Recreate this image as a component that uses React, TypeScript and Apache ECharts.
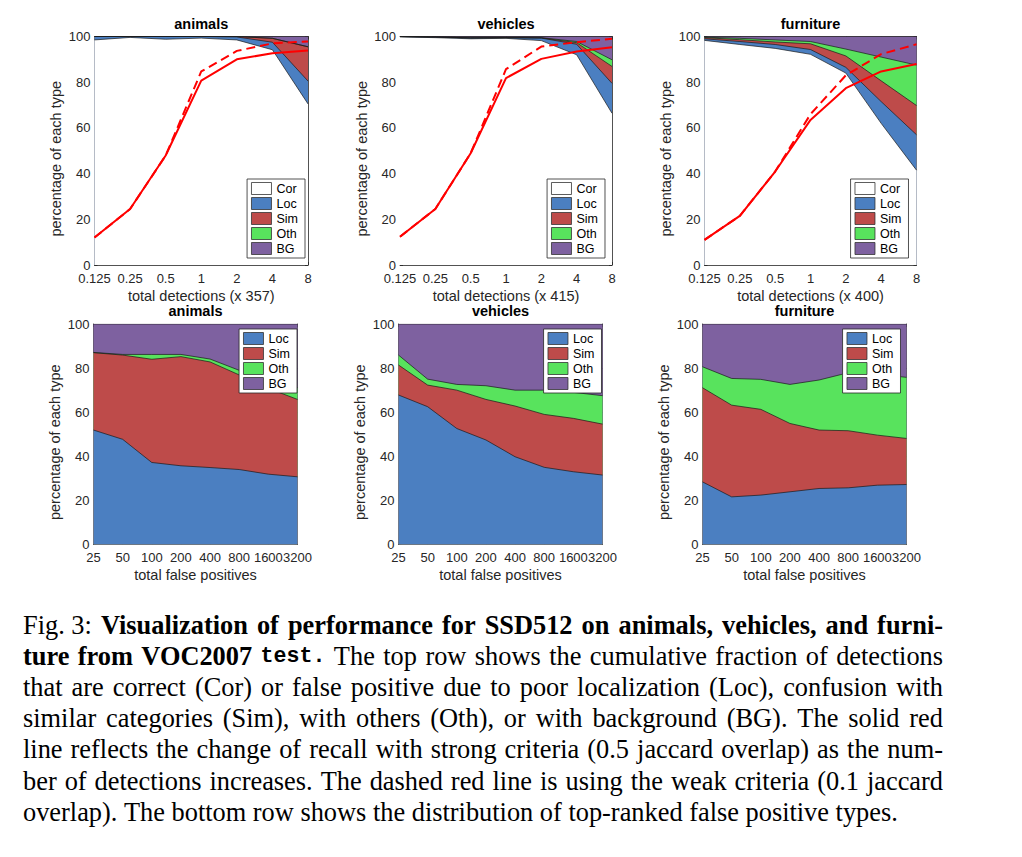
import React, { useEffect, useRef } from "react";
import * as echarts from "echarts";

// ---------------- data ----------------
const CATEGORIES = ["animals", "vehicles", "furniture"];
const DETECTION_COUNTS = [357, 415, 400];
const TOP_TYPES = ["Cor", "Loc", "Sim", "Oth", "BG"];
const BOTTOM_TYPES = ["Loc", "Sim", "Oth", "BG"];
const TOP_X = [0.125, 0.25, 0.5, 1, 2, 4, 8];
const BOTTOM_X = ["25", "50", "100", "200", "400", "800", "1600", "3200"];
const Y_MIN = 0;
const Y_MAX = 100;
const Y_STEP = 20;

// top row: cumulative fraction of detections by type (percent)
const ANIMALS_COR = [98.5, 99.6, 98.8, 99.3, 98.5, 94.2, 70.5];
const ANIMALS_LOC = [1.5, 0.4, 1.2, 0.7, 1.3, 3.3, 10.0];
const ANIMALS_SIM = [0, 0, 0, 0, 0.2, 1.7, 15.0];
const ANIMALS_OTH = [0, 0, 0, 0, 0, 0, 0];
const ANIMALS_BG = [0, 0, 0, 0, 0, 0.8, 4.5];
const ANIMALS_RECALL_STRONG = [12.0, 24.5, 47.9, 80.7, 90.0, 92.7, 93.9];
const ANIMALS_RECALL_WEAK = [12.0, 24.5, 47.9, 84.7, 93.7, 97.0, 97.8];

const VEHICLES_COR = [99.8, 99.5, 99.0, 99.2, 98.2, 92.0, 66.4];
const VEHICLES_LOC = [0.2, 0.3, 0.4, 0.3, 1.1, 4.6, 13.1];
const VEHICLES_SIM = [0, 0, 0, 0, 0.1, 0.7, 7.4];
const VEHICLES_OTH = [0, 0, 0, 0, 0.1, 0.5, 2.9];
const VEHICLES_BG = [0, 0.2, 0.6, 0.5, 0.5, 2.2, 10.2];
const VEHICLES_RECALL_STRONG = [12.4, 24.5, 48.9, 81.8, 90.2, 93.4, 95.3];
const VEHICLES_RECALL_WEAK = [12.4, 24.5, 48.9, 85.7, 95.6, 97.5, 99.0];

const FURNITURE_COR = [98.3, 96.5, 94.8, 92.2, 84.0, 62.0, 41.5];
const FURNITURE_LOC = [0.7, 1.3, 1.7, 2.1, 2.5, 9.5, 15.5];
const FURNITURE_SIM = [0.5, 0.8, 1.1, 2.5, 5.0, 9.1, 12.8];
const FURNITURE_OTH = [0.2, 0.6, 0.9, 1.0, 3.0, 10.4, 17.7];
const FURNITURE_BG = [0.3, 0.8, 1.5, 2.2, 5.5, 9.0, 12.5];
const FURNITURE_RECALL_STRONG = [11.0, 21.5, 40.9, 63.5, 77.4, 84.7, 88.0];
const FURNITURE_RECALL_WEAK = [11.0, 21.5, 40.9, 66.0, 83.0, 92.3, 96.6];

// bottom row: distribution of top-ranked false positive types (percent)
const ANIMALS_FP_LOC = [51.9, 47.7, 37.2, 35.7, 34.9, 34.0, 31.9, 30.7];
const ANIMALS_FP_SIM = [35.1, 38.2, 46.8, 49.5, 47.9, 42.9, 38.9, 35.1];
const ANIMALS_FP_OTH = [0.1, 0.3, 2.2, 1.0, 1.3, 2.1, 3.8, 5.3];
const ANIMALS_FP_BG = [12.9, 13.8, 13.8, 13.8, 15.9, 21.0, 25.4, 28.9];

const VEHICLES_FP_LOC = [67.8, 62.5, 52.6, 47.4, 39.8, 35.0, 33.0, 31.5];
const VEHICLES_FP_SIM = [13.6, 9.8, 17.4, 18.4, 23.0, 24.0, 24.2, 23.1];
const VEHICLES_FP_OTH = [4.5, 2.7, 2.6, 6.2, 7.2, 11.0, 11.8, 12.9];
const VEHICLES_FP_BG = [14.1, 25.0, 27.4, 28.0, 30.0, 30.0, 31.0, 32.5];

const FURNITURE_FP_LOC = [28.4, 21.6, 22.4, 23.9, 25.4, 25.7, 26.9, 27.2];
const FURNITURE_FP_SIM = [42.7, 41.6, 38.9, 31.0, 26.5, 25.9, 22.7, 20.9];
const FURNITURE_FP_OTH = [9.5, 12.1, 13.6, 17.7, 22.7, 26.3, 27.7, 27.7];
const FURNITURE_FP_BG = [19.4, 24.7, 25.1, 27.4, 25.4, 22.1, 22.7, 24.2];

const CAPTION_LINES: [string, string][][] = [
  [["k", "Fig. 3:"], ["b", "Visualization of performance for SSD512 on animals, vehicles, and furni-"]],
  [["b", "ture from VOC2007"], ["m", "test."], ["n", "The top row shows the cumulative fraction of detections"]],
  [["n", "that are correct (Cor) or false positive due to poor localization (Loc), confusion with"]],
  [["n", "similar categories (Sim), with others (Oth), or with background (BG). The solid red"]],
  [["n", "line reflects the change of recall with strong criteria (0.5 jaccard overlap) as the num-"]],
  [["n", "ber of detections increases. The dashed red line is using the weak criteria (0.1 jaccard"]],
  [["n", "overlap). The bottom row shows the distribution of top-ranked false positive types."]],
];

// ---------------- styling / layout ----------------
const TYPE_COLORS: Record<string, string> = {
  Cor: "#ffffff",
  Loc: "#4b7fc1",
  Sim: "#be4b4a",
  Oth: "#58e35d",
  BG: "#7e61a0",
};
const AXIS_COLOR = "#262626";
const SANS = '"Liberation Sans", Arial, Helvetica, sans-serif';
const SERIF = '"Liberation Serif", "Times New Roman", serif';
const MONO = '"Liberation Mono", "Courier New", monospace';

const TOP_GRIDS = [
  { left: 94.5, top: 36.5, width: 213.5, height: 228.5 },
  { left: 400, top: 36.5, width: 212, height: 228.5 },
  { left: 704.5, top: 36.5, width: 212, height: 228.5 },
];
const BOTTOM_GRIDS = [
  { left: 93.5, top: 324, width: 204, height: 220.5 },
  { left: 398.5, top: 324, width: 204, height: 220.5 },
  { left: 702.5, top: 324, width: 204, height: 220.5 },
];
const TOP_LEGEND_RIGHT = [717, 417, 113.5];
const BOTTOM_LEGEND_RIGHT = [725, 420.5, 121.5];

function cumulative(parts: number[][]): number[][] {
  const out: number[][] = [];
  let run = parts[0].map(() => 0);
  parts.forEach((p) => {
    run = run.map((v, i) => +(v + p[i]).toFixed(3));
    out.push(run);
  });
  return out;
}

function buildCaption(): any[] {
  const canvas = document.createElement("canvas");
  const ctx = canvas.getContext("2d") as CanvasRenderingContext2D;
  const MONO_SCALE = 0.82;
  const fam = (st: string) => (st === "m" ? MONO : SERIF);
  const wt = (st: string) => (st === "b" || st === "m" ? "bold" : "normal");
  const sz = (st: string, fs: number) => (st === "m" ? fs * MONO_SCALE : fs);
  const measure = (t: string, st: string, fs: number) => {
    ctx.font = `${wt(st)} ${sz(st, fs)}px ${fam(st)}`;
    return ctx.measureText(t).width;
  };
  const X0 = 23;
  const X1 = 943;
  const Y0 = 625;
  const LH = 31.2;
  const lastText = CAPTION_LINES[CAPTION_LINES.length - 1].map((s) => s[1]).join(" ");
  let fs = (25 * 875) / Math.max(1, measure(lastText, "n", 25));
  if (!isFinite(fs)) fs = 25;
  fs = Math.min(27, Math.max(23, fs));
  const els: any[] = [];
  CAPTION_LINES.forEach((line, li) => {
    const tokens: { t: string; st: string; w: number }[] = [];
    line.forEach(([st, text]) => {
      const parts = st === "k" ? [text] : text.split(" ").filter((p) => p.length);
      const s = st === "k" ? "n" : st;
      parts.forEach((p) => tokens.push({ t: p, st: s, w: measure(p, s, fs) }));
    });
    const total = tokens.reduce((a, b) => a + b.w, 0);
    const justify = li < CAPTION_LINES.length - 1;
    const gap = justify ? (X1 - X0 - total) / Math.max(1, tokens.length - 1) : measure(" ", "n", fs);
    let x = X0;
    tokens.forEach((tk) => {
      els.push({
        type: "text",
        x,
        y: Y0 + li * LH,
        silent: true,
        style: {
          text: tk.t,
          fontSize: sz(tk.st, fs),
          fontFamily: fam(tk.st),
          fontWeight: wt(tk.st),
          fill: "#000000",
          textAlign: "left",
          textVerticalAlign: "middle",
        },
      });
      x += tk.w + gap;
    });
  });
  return els;
}

function buildOption(): any {
  const topSets = [
    {
      parts: [ANIMALS_COR, ANIMALS_LOC, ANIMALS_SIM, ANIMALS_OTH, ANIMALS_BG],
      strong: ANIMALS_RECALL_STRONG,
      weak: ANIMALS_RECALL_WEAK,
    },
    {
      parts: [VEHICLES_COR, VEHICLES_LOC, VEHICLES_SIM, VEHICLES_OTH, VEHICLES_BG],
      strong: VEHICLES_RECALL_STRONG,
      weak: VEHICLES_RECALL_WEAK,
    },
    {
      parts: [FURNITURE_COR, FURNITURE_LOC, FURNITURE_SIM, FURNITURE_OTH, FURNITURE_BG],
      strong: FURNITURE_RECALL_STRONG,
      weak: FURNITURE_RECALL_WEAK,
    },
  ];
  const bottomSets = [
    [ANIMALS_FP_LOC, ANIMALS_FP_SIM, ANIMALS_FP_OTH, ANIMALS_FP_BG],
    [VEHICLES_FP_LOC, VEHICLES_FP_SIM, VEHICLES_FP_OTH, VEHICLES_FP_BG],
    [FURNITURE_FP_LOC, FURNITURE_FP_SIM, FURNITURE_FP_OTH, FURNITURE_FP_BG],
  ];

  const grid: any[] = [];
  const xAxis: any[] = [];
  const yAxis: any[] = [];
  const series: any[] = [];
  const legend: any[] = [];
  const graphic: any[] = [];

  const axisLine = { show: true, onZero: false, lineStyle: { color: AXIS_COLOR, width: 0.8 } };
  const axisTick = { show: true, inside: true, length: 3, lineStyle: { color: AXIS_COLOR, width: 0.8 } };
  const tickLabel = { show: true, color: AXIS_COLOR, fontSize: 13, lineHeight: 12, fontFamily: SANS, margin: 4 };
  const nameStyle = { color: AXIS_COLOR, fontSize: 14.5, fontFamily: SANS };

  const addYAxes = (g: number) => {
    const base = {
      type: "value",
      gridIndex: g,
      min: Y_MIN,
      max: Y_MAX,
      interval: Y_STEP,
      splitLine: { show: false },
      axisLine,
      axisTick,
    };
    yAxis.push({
      ...base,
      position: "left",
      name: "percentage of each type",
      nameLocation: "middle",
      nameRotate: 90,
      nameGap: 31,
      nameTextStyle: { ...nameStyle, padding: [0, 16, 0, 0] },
      axisLabel: tickLabel,
    });
    yAxis.push({ ...base, position: "right", axisLabel: { show: false } });
  };

  const addLegend = (types: string[], right: number, top: number) => {
    legend.push({
      orient: "vertical",
      right,
      top,
      padding: [3, 7, 3, 4],
      itemGap: 2,
      itemWidth: 20,
      itemHeight: 12,
      itemTextGap: 3,
      backgroundColor: "#ffffff",
      borderColor: AXIS_COLOR,
      borderWidth: 0.8,
      borderRadius: 0,
      selectedMode: false,
      icon: "rect",
      textStyle: { fontSize: 12.5, color: "#000000", fontFamily: SANS, lineHeight: 13 },
      data: types.map((t) => ({
        name: t,
        icon: "rect",
        itemStyle: { color: TYPE_COLORS[t], borderColor: "#333333", borderWidth: 0.8 },
      })),
    });
  };

  const addTitle = (text: string, g: any) => {
    graphic.push({
      type: "text",
      x: g.left + g.width / 2,
      y: g.top - 13,
      silent: true,
      style: {
        text,
        fontSize: 14.5,
        fontWeight: "bold",
        fontFamily: SANS,
        fill: "#000000",
        textAlign: "center",
        textVerticalAlign: "middle",
      },
    });
  };

  // ---- top row ----
  topSets.forEach((set, i) => {
    const g = grid.length;
    const box = TOP_GRIDS[i];
    grid.push({ ...box, show: false, containLabel: false, outerBoundsMode: "none" });
    const xBase = { type: "log", logBase: 2, gridIndex: g, min: TOP_X[0], max: TOP_X[TOP_X.length - 1], splitLine: { show: false }, minorTick: { show: false }, axisLine, axisTick };
    xAxis.push({
      ...xBase,
      position: "bottom",
      name: `total detections (x ${DETECTION_COUNTS[i]})`,
      nameLocation: "middle",
      nameGap: 23,
      nameTextStyle: nameStyle,
      axisLabel: { ...tickLabel, margin: 7, formatter: (v: number) => String(Number(Number(v).toPrecision(6))) },
    });
    xAxis.push({ ...xBase, position: "top", axisLabel: { show: false } });
    addYAxes(g);
    const cum = cumulative(set.parts);
    for (let k = TOP_TYPES.length - 1; k >= 0; k--) {
      series.push({
        type: "line",
        name: TOP_TYPES[k],
        xAxisIndex: 2 * g,
        yAxisIndex: 2 * g,
        data: TOP_X.map((x, j) => [x, cum[k][j]]),
        symbol: "none",
        showSymbol: false,
        silent: true,
        lineStyle: { color: "#1a1a1a", width: 0.7 },
        itemStyle: { color: TYPE_COLORS[TOP_TYPES[k]] },
        areaStyle: { color: TYPE_COLORS[TOP_TYPES[k]], opacity: 1 },
        z: 2,
      });
    }
    series.push({
      type: "line",
      name: "recall (0.5 overlap)",
      xAxisIndex: 2 * g,
      yAxisIndex: 2 * g,
      data: TOP_X.map((x, j) => [x, set.strong[j]]),
      symbol: "none",
      silent: true,
      lineStyle: { color: "#ff0000", width: 2 },
      itemStyle: { color: "#ff0000" },
      z: 3,
    });
    series.push({
      type: "line",
      name: "recall (0.1 overlap)",
      xAxisIndex: 2 * g,
      yAxisIndex: 2 * g,
      data: TOP_X.map((x, j) => [x, set.weak[j]]),
      symbol: "none",
      silent: true,
      lineStyle: { color: "#ff0000", width: 2, type: [9, 5] },
      itemStyle: { color: "#ff0000" },
      z: 3,
    });
    addLegend(TOP_TYPES, TOP_LEGEND_RIGHT[i], 179);
    addTitle(CATEGORIES[i], box);
  });

  // ---- bottom row ----
  bottomSets.forEach((parts, i) => {
    const g = grid.length;
    const box = BOTTOM_GRIDS[i];
    grid.push({ ...box, show: false, containLabel: false, outerBoundsMode: "none" });
    const xBase = {
      type: "category",
      gridIndex: g,
      data: BOTTOM_X,
      boundaryGap: false,
      splitLine: { show: false },
      axisLine,
      axisTick: { ...axisTick, interval: 0 },
    };
    xAxis.push({
      ...xBase,
      position: "bottom",
      name: "total false positives",
      nameLocation: "middle",
      nameGap: 23,
      nameTextStyle: nameStyle,
      axisLabel: { ...tickLabel, margin: 7, interval: 0, hideOverlap: false },
    });
    xAxis.push({ ...xBase, position: "top", axisLabel: { show: false } });
    addYAxes(g);
    const cum = cumulative(parts);
    for (let k = BOTTOM_TYPES.length - 1; k >= 0; k--) {
      series.push({
        type: "line",
        name: BOTTOM_TYPES[k],
        xAxisIndex: 2 * g,
        yAxisIndex: 2 * g,
        data: cum[k],
        symbol: "none",
        showSymbol: false,
        silent: true,
        lineStyle: { color: "#1a1a1a", width: 0.7 },
        itemStyle: { color: TYPE_COLORS[BOTTOM_TYPES[k]] },
        areaStyle: { color: TYPE_COLORS[BOTTOM_TYPES[k]], opacity: 1 },
        z: 2,
      });
    }
    addLegend(BOTTOM_TYPES, BOTTOM_LEGEND_RIGHT[i], 329);
    addTitle(CATEGORIES[i], box);
  });

  return {
    animation: false,
    backgroundColor: "#ffffff",
    grid,
    xAxis,
    yAxis,
    series,
    legend,
    graphic: [...graphic, ...buildCaption()],
    tooltip: { show: false },
  };
}

export default function App() {
  const ref = useRef<HTMLDivElement>(null);
  useEffect(() => {
    document.body.style.margin = "0";
    if (!ref.current) return;
    const chart = echarts.init(ref.current, undefined, { renderer: "svg" });
    chart.setOption(buildOption());
    return () => chart.dispose();
  }, []);
  return (
    <div style={{ position: "fixed", left: 0, top: 0, width: 1022, height: 857, background: "#ffffff", overflow: "hidden" }}>
      <div ref={ref} style={{ width: 1022, height: 857 }} />
    </div>
  );
}
